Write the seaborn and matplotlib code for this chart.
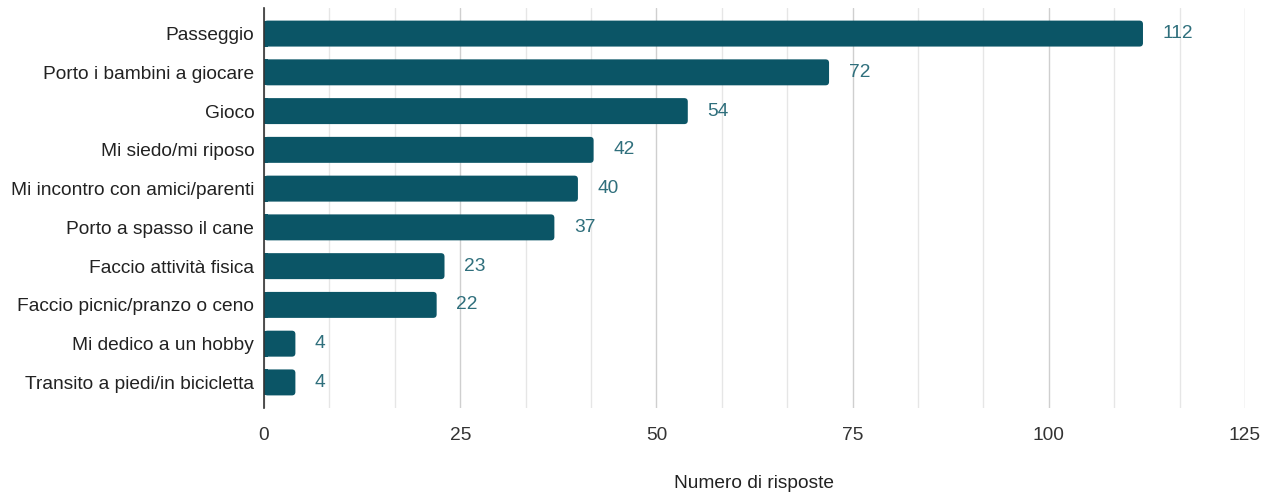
import numpy as np
import pandas as pd
import matplotlib
matplotlib.use("Agg")
import matplotlib.pyplot as plt
from matplotlib.patches import FancyBboxPatch
from matplotlib.ticker import MultipleLocator
import seaborn as sns

# data
attivita = [
    "Passeggio",
    "Porto i bambini a giocare",
    "Gioco",
    "Mi siedo/mi riposo",
    "Mi incontro con amici/parenti",
    "Porto a spasso il cane",
    "Faccio attività fisica",
    "Faccio picnic/pranzo o ceno",
    "Mi dedico a un hobby",
    "Transito a piedi/in bicicletta",
]
risposte = [112, 72, 54, 42, 40, 37, 23, 22, 4, 4]

df = pd.DataFrame({"attivita": attivita, "risposte": risposte})

BAR = "#0b5566"
LABEL = "#2f6f7c"
FS = 13.8

sns.set_theme(style="white")
plt.rcParams["font.family"] = ["Liberation Sans", "DejaVu Sans"]

fig = plt.figure(figsize=(12.63, 4.92), dpi=100)
ax = fig.add_axes([264 / 1263, 1 - 408 / 492, (1245 - 264) / 1263, 400 / 492])

sns.barplot(data=df, x="risposte", y="attivita", color=BAR, saturation=1,
            width=0.67, linewidth=0, ax=ax)

ax.set_xlim(0, 125)
ax.set_ylim(9.66, -0.66)

# rounded right ends, like the original chart
for p in ax.containers[0]:
    x0, y0 = p.get_x(), p.get_y()
    w, h = p.get_width(), p.get_height()
    ax.add_patch(FancyBboxPatch((x0, y0), w, h,
                                boxstyle="round,pad=0,rounding_size=0.45",
                                mutation_aspect=0.2, facecolor=BAR,
                                edgecolor="none", linewidth=0,
                                zorder=p.get_zorder()))
    # keep only a sliver of the plain bar so the left corners stay square
    p.set_width(min(w, 0.5))

ax.xaxis.set_major_locator(MultipleLocator(25))
ax.xaxis.set_minor_locator(MultipleLocator(25 / 3))
ax.grid(axis="x", which="major", color="#cfcfcf", linewidth=1)
ax.grid(axis="x", which="minor", color="#e6e6e6", linewidth=1)
ax.set_axisbelow(True)

for s in ["top", "right", "bottom"]:
    ax.spines[s].set_visible(False)
ax.spines["left"].set_color("#333333")
ax.spines["left"].set_linewidth(1.2)
ax.spines["left"].set_zorder(5)

ax.tick_params(axis="both", which="both", length=0)
ax.tick_params(axis="y", pad=7, labelsize=FS, labelcolor="#222222")
ax.tick_params(axis="x", pad=14, labelsize=FS, labelcolor="#333333")

ax.bar_label(ax.containers[0], labels=[str(v) for v in risposte], padding=14,
             color=LABEL, fontsize=FS)
# bar_label uses the patch width, which was trimmed above; move labels to bar end
for t, v in zip(ax.texts, risposte):
    t.xy = (v, t.xy[1])

ax.set_ylabel("")
ax.set_xlabel("Numero di risposte", fontsize=FS, color="#222222", labelpad=22)

fig.savefig("out.png", dpi=100)
